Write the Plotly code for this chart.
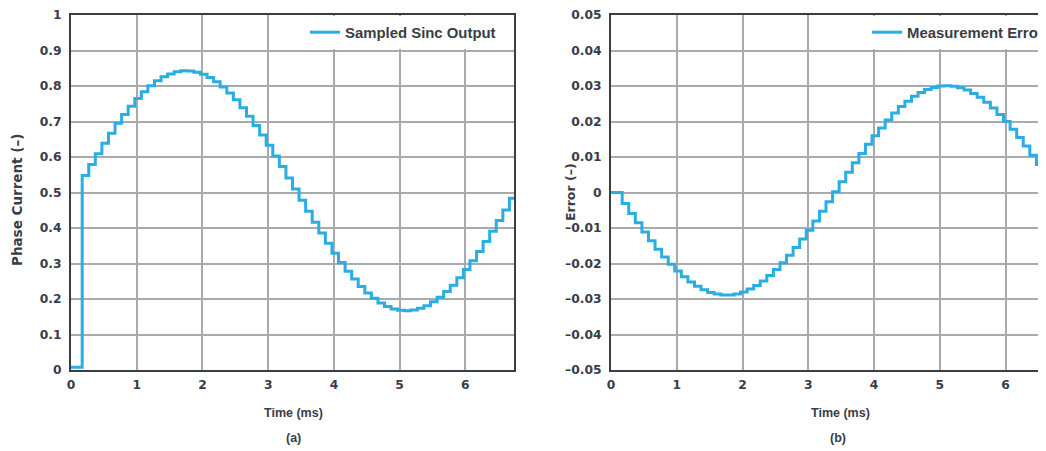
import plotly.graph_objects as go

# ---------------- data ----------------
sample_times_ms = [0.00, 0.17, 0.27, 0.37, 0.47, 0.57, 0.67, 0.77, 0.87, 0.97, 1.07,
                   1.17, 1.27, 1.37, 1.47, 1.57, 1.67, 1.77, 1.87, 1.97, 2.07,
                   2.17, 2.27, 2.37, 2.47, 2.57, 2.67, 2.77, 2.87, 2.97, 3.07,
                   3.17, 3.27, 3.37, 3.47, 3.57, 3.67, 3.77, 3.87, 3.97, 4.07,
                   4.17, 4.27, 4.37, 4.47, 4.57, 4.67, 4.77, 4.87, 4.97, 5.07,
                   5.17, 5.27, 5.37, 5.47, 5.57, 5.67, 5.77, 5.87, 5.97, 6.07,
                   6.17, 6.27, 6.37, 6.47, 6.57, 6.67, 6.75]

phase_current = [0.008, 0.548, 0.579, 0.609, 0.639, 0.667, 0.695, 0.720, 0.743, 0.765, 0.784,
                 0.801, 0.815, 0.826, 0.834, 0.840, 0.843, 0.842, 0.839, 0.833, 0.824,
                 0.812, 0.797, 0.780, 0.761, 0.739, 0.715, 0.689, 0.662, 0.633, 0.603,
                 0.573, 0.541, 0.510, 0.478, 0.447, 0.416, 0.386, 0.357, 0.329, 0.303,
                 0.278, 0.256, 0.235, 0.217, 0.202, 0.189, 0.179, 0.172, 0.168, 0.167,
                 0.169, 0.174, 0.181, 0.192, 0.205, 0.221, 0.239, 0.260, 0.283, 0.308,
                 0.334, 0.362, 0.391, 0.421, 0.451, 0.484, 0.484]

measurement_error = [0.0, -0.0031, -0.0059, -0.0085, -0.0111, -0.0136, -0.0160, -0.0182, -0.0202, -0.0221, -0.0237,
                     -0.0252, -0.0264, -0.0274, -0.0282, -0.0286, -0.0289, -0.0289, -0.0286, -0.0280, -0.0272,
                     -0.0262, -0.0249, -0.0234, -0.0217, -0.0198, -0.0177, -0.0155, -0.0131, -0.0106, -0.0080,
                     -0.0053, -0.0026, 0.0002, 0.0030, 0.0057, 0.0084, 0.0110, 0.0136, 0.0160, 0.0182,
                     0.0204, 0.0224, 0.0242, 0.0257, 0.0271, 0.0282, 0.0290, 0.0296, 0.0300, 0.0301,
                     0.0299, 0.0295, 0.0289, 0.0279, 0.0268, 0.0254, 0.0238, 0.0220, 0.0200, 0.0178,
                     0.0155, 0.0131, 0.0105, 0.0079, 0.0053, 0.0024, 0.0024]

x_tick_vals = [0, 1, 2, 3, 4, 5, 6]
x_tick_text = ["0", "1", "2", "3", "4", "5", "6"]
current_tick_vals = [0, 0.1, 0.2, 0.3, 0.4, 0.5, 0.6, 0.7, 0.8, 0.9, 1.0]
current_tick_text = ["0", "0.1", "0.2", "0.3", "0.4", "0.5", "0.6", "0.7", "0.8", "0.9", "1"]
error_tick_vals = [-0.05, -0.04, -0.03, -0.02, -0.01, 0, 0.01, 0.02, 0.03, 0.04, 0.05]
error_tick_text = ["\u20130.05", "\u20130.04", "\u20130.03", "\u20130.02", "\u20130.01", "0",
                   "0.01", "0.02", "0.03", "0.04", "0.05"]

# ---------------- styling ----------------
PAGE_OFFSET = 8                      # default body margin of the html page
W, H = 1046 - PAGE_OFFSET, 451 - PAGE_OFFSET
LINE_BLUE = "#2AADE3"
FRAME = "#3A3D46"
GRID = "#A9A9AE"
TEXT = "#3A3D46"
FONT = "DejaVu Sans"
LEG_FONT = "Liberation Sans"


def px_x(p):
    return (p - PAGE_OFFSET) / W


def px_y(p):
    return (H - (p - PAGE_OFFSET)) / H


fig = go.Figure()
fig.add_trace(go.Scatter(x=sample_times_ms, y=phase_current, mode="lines",
                         line=dict(color=LINE_BLUE, width=3, shape="hv"),
                         name="Sampled Sinc Output", xaxis="x", yaxis="y",
                         legend="legend"))
fig.add_trace(go.Scatter(x=sample_times_ms, y=measurement_error, mode="lines",
                         line=dict(color=LINE_BLUE, width=3, shape="hv"),
                         name="Measurement Error", xaxis="x2", yaxis="y2",
                         legend="legend2"))

tick_font = dict(family=FONT, size=12.3, color=TEXT, weight="bold")
common_x = dict(showgrid=True, gridcolor=GRID, gridwidth=1.5, zeroline=False,
                showline=True, linecolor=FRAME, linewidth=2, ticks="",
                tickfont=tick_font, ticklabelstandoff=2, tickmode="array",
                tickvals=x_tick_vals, ticktext=x_tick_text, fixedrange=True)
common_y = dict(showgrid=True, gridcolor=GRID, gridwidth=1.5, zeroline=False,
                showline=True, linecolor=FRAME, linewidth=2, ticks="",
                tickfont=tick_font, ticklabelstandoff=5, tickmode="array",
                fixedrange=True)

ydom = [px_y(370), px_y(15)]

fig.update_layout(
    width=W, height=H,
    margin=dict(l=0, r=0, t=0, b=0, autoexpand=False),
    paper_bgcolor="white", plot_bgcolor="white",
    showlegend=True,
    xaxis=dict(common_x, domain=[px_x(71), px_x(514)], range=[0, 6.74],
               anchor="y", mirror=True),
    yaxis=dict(common_y, domain=ydom, range=[0, 1], anchor="x", mirror=True,
               tickvals=current_tick_vals, ticktext=current_tick_text),
    xaxis2=dict(common_x, domain=[px_x(611), 1.0], range=[0, 6.616],
                anchor="y2", mirror=True),
    yaxis2=dict(common_y, domain=ydom, range=[-0.05, 0.05], anchor="x2",
                mirror=False, tickvals=error_tick_vals, ticktext=error_tick_text),
    legend=dict(x=px_x(305), xanchor="left", y=px_y(16), yanchor="top",
                bgcolor="white", borderwidth=0,
                font=dict(family=LEG_FONT, size=14.9, color=TEXT, weight="bold")),
    legend2=dict(x=px_x(867), xanchor="left", y=px_y(16), yanchor="top",
                 bgcolor="white", borderwidth=0,
                 font=dict(family=LEG_FONT, size=14.9, color=TEXT, weight="bold")),
)

annotations = [
    dict(text="Time (ms)", x=px_x(293), y=px_y(413), size=12.5, family=LEG_FONT),
    dict(text="Time (ms)", x=px_x(840), y=px_y(413), size=12.5, family=LEG_FONT),
    dict(text="(a)", x=px_x(293), y=px_y(438), size=12.5, family=LEG_FONT),
    dict(text="(b)", x=px_x(838), y=px_y(438), size=12.5, family=LEG_FONT),
    dict(text="Phase Current (\u2013)", x=px_x(17), y=px_y(200), textangle=-90,
         size=13.5, family=FONT),
    dict(text="Error (\u2013)", x=px_x(570), y=px_y(192), textangle=-90,
         size=12.5, family=FONT),
]
for a in annotations:
    size = a.pop("size")
    family = a.pop("family")
    fig.add_annotation(xref="paper", yref="paper", showarrow=False,
                       xanchor="center", yanchor="middle",
                       font=dict(family=family, size=size, color=TEXT, weight="bold"),
                       **a)

fig.write_html("out.html")
